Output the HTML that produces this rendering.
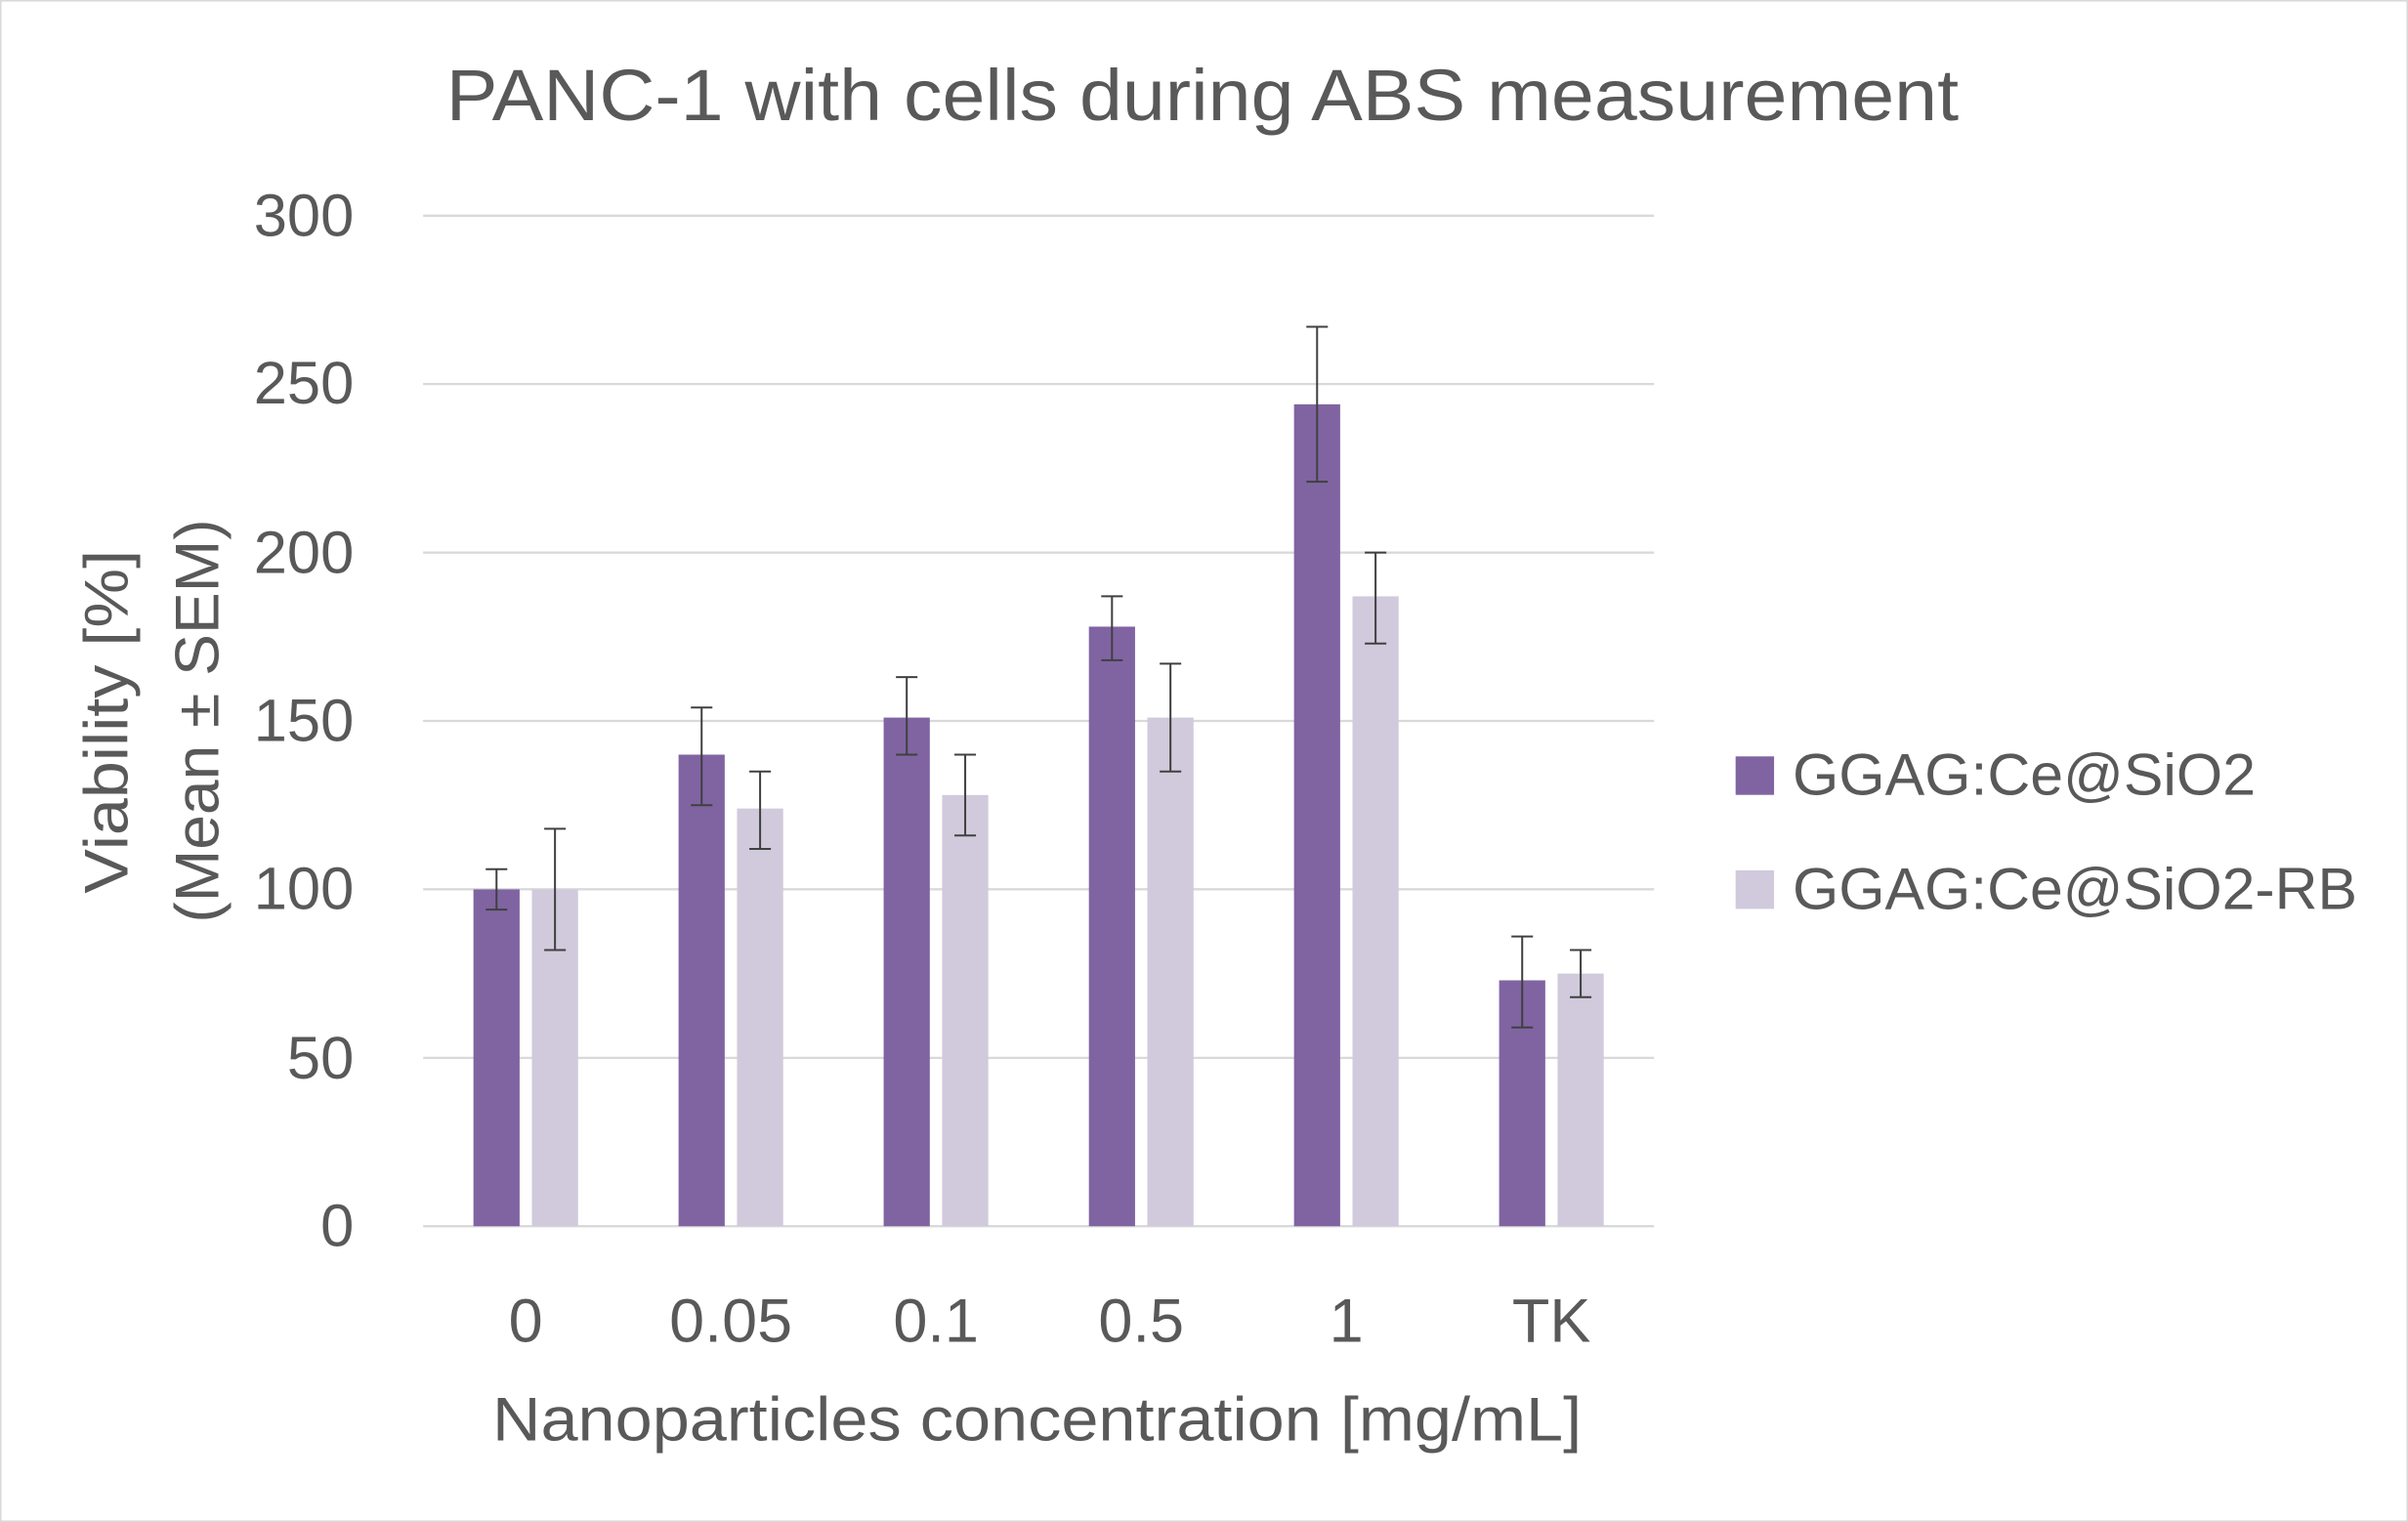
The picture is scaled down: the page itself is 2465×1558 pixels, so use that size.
<!DOCTYPE html>
<html><head><meta charset="utf-8"><style>
html,body{margin:0;padding:0;background:#fff}
svg{display:block}
text{font-family:"Liberation Sans",sans-serif;fill:#595959}
</style></head><body>
<svg width="2465" height="1558" viewBox="0 0 1565 988" preserveAspectRatio="none" xmlns="http://www.w3.org/2000/svg">
<rect x="0.5" y="0.5" width="1564" height="987" fill="#fff" stroke="#d9d9d9" stroke-width="1"/>
<text x="290" y="78" font-size="47" textLength="983" lengthAdjust="spacingAndGlyphs">PANC-1 with cells during ABS measurement</text>
<g stroke="#d9d9d9" stroke-width="1.5">
<line x1="275" x2="1075" y1="140" y2="140"/>
<line x1="275" x2="1075" y1="249.3" y2="249.3"/>
<line x1="275" x2="1075" y1="358.7" y2="358.7"/>
<line x1="275" x2="1075" y1="468" y2="468"/>
<line x1="275" x2="1075" y1="577.3" y2="577.3"/>
<line x1="275" x2="1075" y1="686.7" y2="686.7"/>
<line x1="275" x2="1075" y1="796" y2="796"/>
</g>
<g font-size="39" text-anchor="end">
<text x="230" y="153">300</text><text x="230" y="262">250</text><text x="230" y="372">200</text>
<text x="230" y="481">150</text><text x="230" y="590">100</text><text x="230" y="700">50</text><text x="230" y="809">0</text>
</g>
<g transform="translate(0,796) scale(1,-2.18667)">
<g fill="#8064a2">
<rect x="307.7" y="0" width="30" height="100"/>
<rect x="441" y="0" width="30" height="140"/>
<rect x="574.3" y="0" width="30" height="151"/>
<rect x="707.7" y="0" width="30" height="178"/>
<rect x="841" y="0" width="30" height="244"/>
<rect x="974.3" y="0" width="30" height="73"/>
</g>
<g fill="#d0cadc">
<rect x="345.7" y="0" width="30" height="100"/>
<rect x="479" y="0" width="30" height="124"/>
<rect x="612.3" y="0" width="30" height="128"/>
<rect x="745.7" y="0" width="30" height="151"/>
<rect x="879" y="0" width="30" height="187"/>
<rect x="1012.3" y="0" width="30" height="75"/>
</g>
<g stroke="#404040" fill="none">
<path stroke-width="2" vector-effect="non-scaling-stroke" d="M322.7 94V106M315.7 94H329.7M315.7 106H329.7"/>
<path stroke-width="2" vector-effect="non-scaling-stroke" d="M360.7 82V118M353.7 82H367.7M353.7 118H367.7"/>
<path stroke-width="2" vector-effect="non-scaling-stroke" d="M456 125V154M449 125H463M449 154H463"/>
<path stroke-width="2" vector-effect="non-scaling-stroke" d="M494 112V135M487 112H501M487 135H501"/>
<path stroke-width="2" vector-effect="non-scaling-stroke" d="M589.3 140V163M582.3 140H596.3M582.3 163H596.3"/>
<path stroke-width="2" vector-effect="non-scaling-stroke" d="M627.3 116V140M620.3 116H634.3M620.3 140H634.3"/>
<path stroke-width="2" vector-effect="non-scaling-stroke" d="M722.7 168V187M715.7 168H729.7M715.7 187H729.7"/>
<path stroke-width="2" vector-effect="non-scaling-stroke" d="M760.7 135V167M753.7 135H767.7M753.7 167H767.7"/>
<path stroke-width="2" vector-effect="non-scaling-stroke" d="M856 221V267M849 221H863M849 267H863"/>
<path stroke-width="2" vector-effect="non-scaling-stroke" d="M894 173V200M887 173H901M887 200H901"/>
<path stroke-width="2" vector-effect="non-scaling-stroke" d="M989.3 59V86M982.3 59H996.3M982.3 86H996.3"/>
<path stroke-width="2" vector-effect="non-scaling-stroke" d="M1027.3 68V82M1020.3 68H1034.3M1020.3 82H1034.3"/>
</g>
</g>
<g font-size="40" text-anchor="middle">
<text x="341.7" y="871">0</text><text x="475" y="871" textLength="80" lengthAdjust="spacingAndGlyphs">0.05</text><text x="608.3" y="871">0.1</text>
<text x="741.7" y="871">0.5</text><text x="875" y="871">1</text><text x="1008.3" y="871">TK</text>
</g>
<text x="320" y="935" font-size="40" textLength="708" lengthAdjust="spacingAndGlyphs">Nanoparticles concentration [mg/mL]</text>
<g font-size="40">
<text transform="translate(83,580) rotate(-90)" textLength="223" lengthAdjust="spacingAndGlyphs">Viability [%]</text>
<text transform="translate(142,599) rotate(-90)" textLength="262" lengthAdjust="spacingAndGlyphs">(Mean ± SEM)</text>
</g>
<rect x="1128" y="491" width="25" height="25" fill="#8064a2"/>
<text x="1165" y="516" font-size="38" textLength="301" lengthAdjust="spacingAndGlyphs">GGAG:Ce@SiO2</text>
<rect x="1128" y="565" width="25" height="25" fill="#d0cadc"/>
<text x="1165" y="590" font-size="38" textLength="367" lengthAdjust="spacingAndGlyphs">GGAG:Ce@SiO2-RB</text>
</svg>
</body></html>
